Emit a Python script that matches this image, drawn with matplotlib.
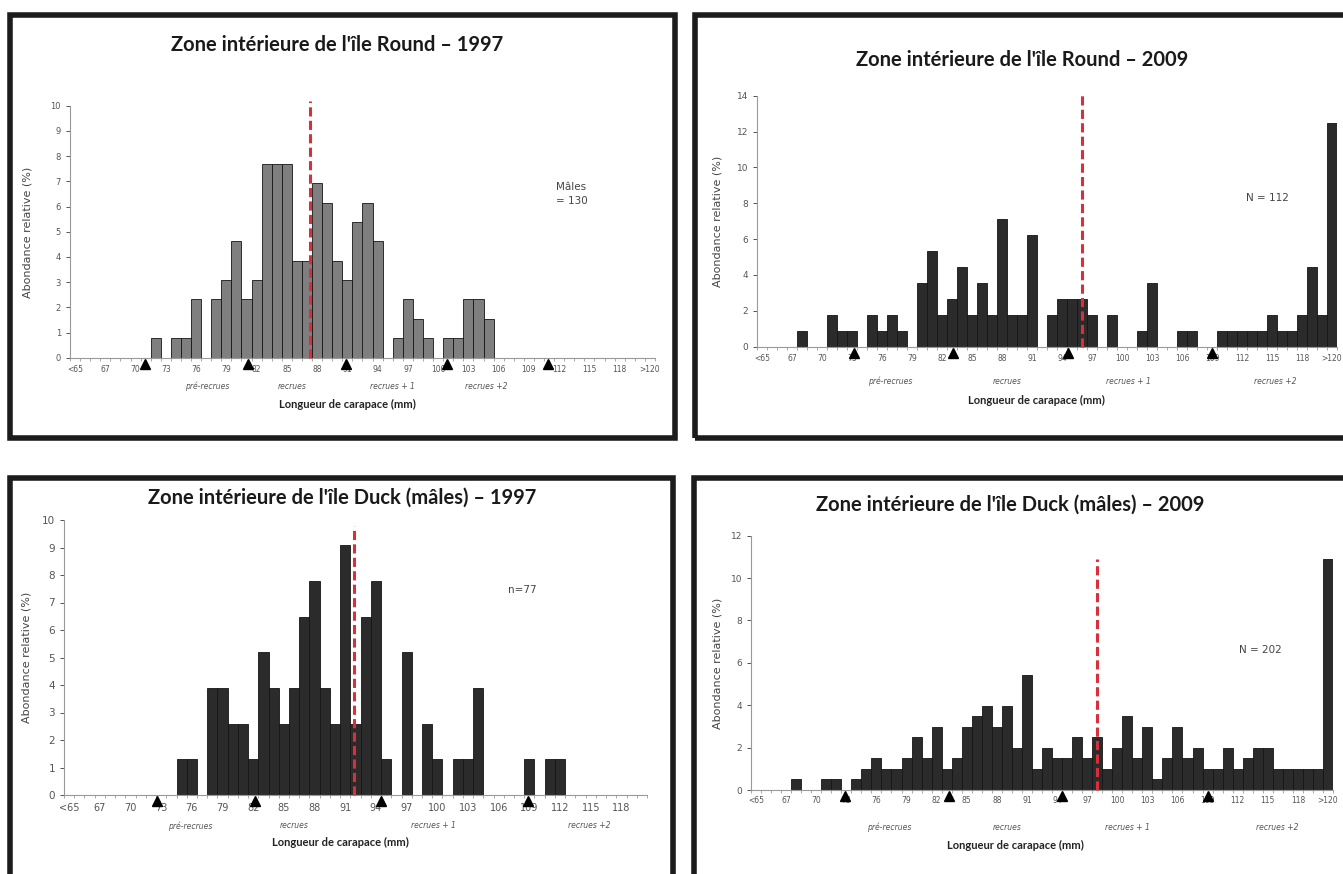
import numpy as np
import matplotlib
matplotlib.use('Agg')
import matplotlib.pyplot as plt
from matplotlib.patches import Rectangle
from matplotlib.transforms import offset_copy

W, H = 1343, 874

# categories (carapace length classes)
cats58 = ['<65'] + [str(v) for v in range(65, 121)] + ['>120']
cats57 = ['<65'] + [str(v) for v in range(65, 120)] + ['>120']

# relative abundance (%) per class
round_1997 = [0, 0, 0, 0, 0, 0, 0, 0, 0.77, 0, 0.77, 0.77, 2.31, 0, 2.31, 3.08,
              4.62, 2.31, 3.08, 7.69, 7.69, 7.69, 3.85, 3.85, 6.92, 6.15, 3.85,
              3.08, 5.38, 6.15, 4.62, 0, 0.77, 2.31, 1.54, 0.77, 0, 0.77, 0.77,
              2.31, 2.31, 1.54, 0, 0, 0, 0, 0, 0, 0, 0, 0, 0, 0, 0, 0, 0, 0, 0]
round_2009 = [0, 0, 0, 0, 0.89, 0, 0, 1.79, 0.89, 0.89, 0, 1.79, 0.89, 1.79,
              0.89, 0, 3.57, 5.36, 1.79, 2.68, 4.46, 1.79, 3.57, 1.79, 7.14,
              1.79, 1.79, 6.25, 0, 1.79, 2.68, 2.68, 2.68, 1.79, 0, 1.79, 0, 0,
              0.89, 3.57, 0, 0, 0.89, 0.89, 0, 0, 0.89, 0.89, 0.89, 0.89, 0.89,
              1.79, 0.89, 0.89, 1.79, 4.46, 1.79, 12.5]
duck_1997 = [0, 0, 0, 0, 0, 0, 0, 0, 0, 0, 0, 1.30, 1.30, 0, 3.90, 3.90, 2.60,
             2.60, 1.30, 5.19, 3.90, 2.60, 3.90, 6.49, 7.79, 3.90, 2.60, 9.09,
             2.60, 6.49, 7.79, 1.30, 0, 5.19, 0, 2.60, 1.30, 0, 1.30, 1.30,
             3.90, 0, 0, 0, 0, 1.30, 0, 1.30, 1.30, 0, 0, 0, 0, 0, 0, 0, 0]
duck_2009 = [0, 0, 0, 0, 0.50, 0, 0, 0.50, 0.50, 0, 0.50, 0.99, 1.49, 0.99,
             0.99, 1.49, 2.48, 1.49, 2.97, 0.99, 1.49, 2.97, 3.47, 3.96, 2.97,
             3.96, 1.98, 5.45, 0.99, 1.98, 1.49, 1.49, 2.48, 1.49, 2.48, 0.99,
             1.98, 3.47, 1.49, 2.97, 0.50, 1.49, 2.97, 1.49, 1.98, 0.99, 0.99,
             1.98, 0.99, 1.49, 1.98, 1.98, 0.99, 0.99, 0.99, 0.99, 0.99, 10.89]

# triangles (cohort markers), red dashed line position, group label positions
tri_r97 = [6.9, 17.1, 26.9, 36.9, 46.9]
tri_r09 = [9.2, 19.1, 30.6, 45.0]
tri_d97 = [8.6, 18.2, 30.5, 44.9]
tri_d09 = [8.9, 19.2, 30.5, 45.0]
red_r97, red_r09, red_d97, red_d09 = (23.3, 10.2), (32.0, 14.2), (27.85, 9.8), (34.0, 10.9)
groups = ['pré-recrues', 'recrues', 'recrues + 1', 'recrues +2']
grp_r97 = [13.1, 21.5, 31.5, 40.8]
grp_r09 = [12.8, 24.5, 36.6, 51.3]
grp_d97 = [11.8, 22.0, 35.6, 50.9]
grp_d09 = [13.3, 25.0, 37.0, 51.9]


def fx(x):
    return x / W


def fy(y):
    return 1 - y / H


fig = plt.figure(figsize=(W / 100, H / 100), dpi=100)

# panel frames
for x0, y0, x1, y1 in [(10, 15, 675, 438), (695, 15, 1370, 438),
                       (10, 478, 673, 900), (694, 478, 1370, 900)]:
    fig.patches.append(Rectangle((fx(x0), fy(y1)), fx(x1) - fx(x0), fy(y0) - fy(y1),
                                 transform=fig.transFigure, fill=False,
                                 lw=4.0, ec='#1c1c1c'))


def panel(box, cats, vals, ymax, ystep, color, tri, red, grp, tick_fs, ytick_fs,
          lab_off, grp_off):
    x0, y0, x1, y1 = box
    ax = fig.add_axes([fx(x0), fy(y1), fx(x1) - fx(x0), fy(y0) - fy(y1)])
    n = len(cats)
    ax.bar(np.arange(n), vals, width=1.0, color=color, edgecolor='#151515', lw=0.6)
    ax.set_xlim(-0.5, n - 0.5)
    ax.set_ylim(0, ymax)
    ax.set_yticks(np.arange(0, ymax + 0.1, ystep))
    ax.tick_params(axis='y', labelsize=ytick_fs, colors='#555555', length=3, width=0.7)
    idx = list(range(0, n, 3))
    ax.set_xticks(idx, [cats[i] for i in idx])
    ax.tick_params(axis='x', which='major', length=0, labelsize=tick_fs,
                   colors='#555555', pad=lab_off)
    ax.set_xticks(np.arange(-0.5, n, 1), minor=True)
    ax.tick_params(axis='x', which='minor', length=2.5, width=0.6, color='#999999')
    for s in ['top', 'right']:
        ax.spines[s].set_visible(False)
    for s in ['left', 'bottom']:
        ax.spines[s].set_color('#999999')
        ax.spines[s].set_linewidth(0.8)
    ax.plot([red[0], red[0]], [0, red[1]], color='#d8303a', lw=2.2,
            dashes=(3, 1.4), clip_on=False, zorder=5)
    tr = offset_copy(ax.transData, fig=fig, y=-6, units='dots')
    ax.plot(tri, [0] * len(tri), '^', color='black', ms=7.5, transform=tr,
            clip_on=False, zorder=6)
    for g, gx in zip(groups, grp):
        ax.annotate(g, xy=(gx, 0), xycoords=('data', 'axes fraction'),
                    xytext=(0, -grp_off * 0.72), textcoords='offset points',
                    ha='center', va='center', fontsize=5.5, style='italic',
                    color='#555555')
    return ax


panel((70, 105.7, 655, 357.7), cats58, round_1997, 10, 1, '#7f7f7f', tri_r97,
      red_r97, grp_r97, 5.5, 6, 5, 29)
panel((757, 95.7, 1337, 346.7), cats58, round_2009, 14, 2, '#2b2b2b', tri_r09,
      red_r09, grp_r09, 5.5, 6.5, 5, 35)
panel((64, 520, 647, 795), cats57, duck_1997, 10, 1, '#2b2b2b', tri_d97,
      red_d97, grp_d97, 7, 7.5, 6, 31)
panel((751, 535.7, 1333, 790), cats58, duck_2009, 12, 2, '#2b2b2b', tri_d09,
      red_d09, grp_d09, 5.5, 6.5, 4, 37)

# titles
tfont = dict(family='Lato', fontweight='bold', ha='center', va='center', color='#1a1a1a')
fig.text(fx(337), fy(45), "Zone intérieure de l'île Round – 1997", fontsize=14.5, **tfont)
fig.text(fx(1022), fy(60), "Zone intérieure de l'île Round – 2009", fontsize=14.5, **tfont)
fig.text(fx(342), fy(498), "Zone intérieure de l'île Duck (mâles) – 1997", fontsize=14.5, **tfont)
fig.text(fx(1010), fy(505), "Zone intérieure de l'île Duck (mâles) – 2009", fontsize=14.5, **tfont)

# axis labels
xl = dict(family='Lato', fontweight='bold', fontsize=8, ha='center', va='center', color='#222222')
fig.text(fx(347), fy(404), 'Longueur de carapace (mm)', **xl)
fig.text(fx(1036), fy(400), 'Longueur de carapace (mm)', **xl)
fig.text(fx(340), fy(842), 'Longueur de carapace (mm)', **xl)
fig.text(fx(1015), fy(845), 'Longueur de carapace (mm)', **xl)
yl = dict(fontsize=8, rotation=90, ha='center', va='center', color='#444444')
fig.text(fx(28), fy(232), 'Abondance relative (%)', **yl)
fig.text(fx(718), fy(221), 'Abondance relative (%)', **yl)
fig.text(fx(27), fy(657), 'Abondance relative (%)', **yl)
fig.text(fx(718), fy(663), 'Abondance relative (%)', **yl)

# sample sizes
nt = dict(fontsize=7.5, color='#444444', va='center')
fig.text(fx(556), fy(194), 'Mâles\n= 130', ha='left', linespacing=1.6, **nt)
fig.text(fx(1267), fy(198), 'N = 112', ha='center', **nt)
fig.text(fx(522), fy(590), 'n=77', ha='center', **nt)
fig.text(fx(1260), fy(650), 'N = 202', ha='center', **nt)

fig.savefig('out.png', dpi=100)
